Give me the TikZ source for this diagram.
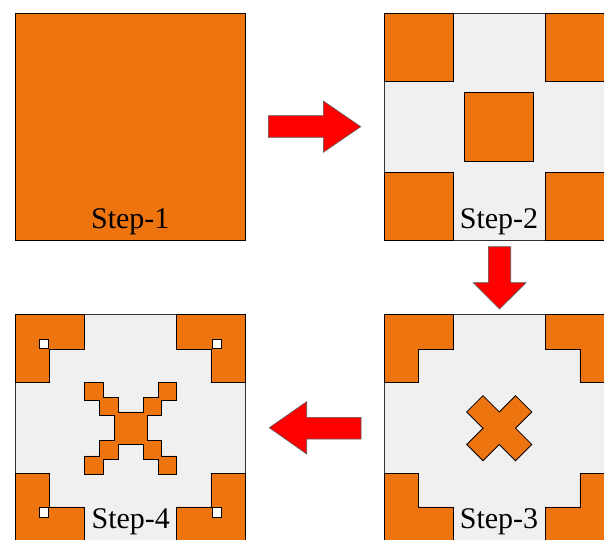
\documentclass[tikz,border=0pt]{standalone}
\usepackage{fontspec}
\setmainfont{Liberation Serif}
\definecolor{org}{RGB}{238,116,16}
\definecolor{lgray}{RGB}{240,240,240}
\begin{document}
\begin{tikzpicture}[x=1bp,y=-1bp,
  panel/.style={fill=lgray,draw=black!80,line width=0.8bp},
  blk/.style={fill=org,draw=black,line width=0.8bp,line join=miter},
  hole/.style={fill=white,draw=black,line width=0.8bp},
  redarrow/.style={fill=red,draw=black!65,line width=0.6bp,line join=miter},
  lbl/.style={font=\fontsize{30bp}{34bp}\selectfont,anchor=base,inner sep=0pt}]
\useasboundingbox (0,0) rectangle (604,540);
\clip (0,0) rectangle (604,540);

% ---------- Step 1 ----------
\draw[blk] (15,13.3) rectangle (245.5,240);
\node[lbl] (s1) at (130.3,228.3) {Step-1};

% ---------- Step 2 ----------
\begin{scope}[shift={(384,13.3)}]
  \draw[panel] (0,0) rectangle (230.5,226.7);
  \draw[blk] (0,0) rectangle (69.2,68);
  \draw[blk] (161.3,0) rectangle (230.5,68);
  \draw[blk] (0,158.7) rectangle (69.2,226.7);
  \draw[blk] (161.3,158.7) rectangle (230.5,226.7);
  \draw[blk] (80.8,78.9) rectangle (149.7,147.8);
\end{scope}
\node[lbl] (s2) at (499,228.3) {Step-2};

% ---------- Step 3 ----------
\begin{scope}[shift={(384,314.7)}]
  \draw[panel] (0,0) rectangle (230.5,226.7);
  \draw[blk] (0,0) -- (69.2,0) -- (69.2,34.5) -- (34.6,34.5) -- (34.6,68) -- (0,68) -- cycle;
  \draw[blk] (230.5,0) -- (161.3,0) -- (161.3,34.5) -- (195.9,34.5) -- (195.9,68) -- (230.5,68) -- cycle;
  \draw[blk] (0,226.7) -- (69.2,226.7) -- (69.2,192.2) -- (34.6,192.2) -- (34.6,158.7) -- (0,158.7) -- cycle;
  \draw[blk] (230.5,226.7) -- (161.3,226.7) -- (161.3,192.2) -- (195.9,192.2) -- (195.9,158.7) -- (230.5,158.7) -- cycle;
  \begin{scope}[shift={(115.25,113.5)},rotate=45]
    \draw[blk] (-11.5,-34.5) -- (11.5,-34.5) -- (11.5,-11.5) -- (34.5,-11.5) -- (34.5,11.5)
      -- (11.5,11.5) -- (11.5,34.5) -- (-11.5,34.5) -- (-11.5,11.5) -- (-34.5,11.5)
      -- (-34.5,-11.5) -- (-11.5,-11.5) -- cycle;
  \end{scope}
\end{scope}
\node[lbl] (s3) at (499,528.3) {Step-3};

% ---------- Step 4 ----------
\begin{scope}[shift={(15,314.7)}]
  \draw[panel] (0,0) rectangle (230.5,226.7);
  \draw[blk] (0,0) -- (69.2,0) -- (69.2,34.5) -- (34.6,34.5) -- (34.6,68) -- (0,68) -- cycle;
  \draw[blk] (230.5,0) -- (161.3,0) -- (161.3,34.5) -- (195.9,34.5) -- (195.9,68) -- (230.5,68) -- cycle;
  \draw[blk] (0,226.7) -- (69.2,226.7) -- (69.2,192.2) -- (34.6,192.2) -- (34.6,158.7) -- (0,158.7) -- cycle;
  \draw[blk] (230.5,226.7) -- (161.3,226.7) -- (161.3,192.2) -- (195.9,192.2) -- (195.9,158.7) -- (230.5,158.7) -- cycle;
  \draw[hole] (24,24.5) rectangle (33.2,33.6);
  \draw[hole] (197.5,24.5) rectangle (206.7,33.6);
  \draw[hole] (24,193.1) rectangle (33.2,202.2);
  \draw[hole] (197.5,193.1) rectangle (206.7,202.2);
  \begin{scope}[shift={(115.6,113.5)}]
    \def\a{12.5}\def\b{16.3}\def\c{27.7}\def\d{31}\def\e{46}
    \draw[blk] (-\e,-\e) -- (-\c,-\e) -- (-\c,-\d) -- (-\a,-\d) -- (-\a,-\b) -- (\a,-\b)
      -- (\a,-\d) -- (\c,-\d) -- (\c,-\e) -- (\e,-\e) -- (\e,-\c) -- (\d,-\c) -- (\d,-\a)
      -- (\b,-\a) -- (\b,\a) -- (\d,\a) -- (\d,\c) -- (\e,\c) -- (\e,\e) -- (\c,\e)
      -- (\c,\d) -- (\a,\d) -- (\a,\b) -- (-\a,\b) -- (-\a,\d) -- (-\c,\d) -- (-\c,\e)
      -- (-\e,\e) -- (-\e,\c) -- (-\d,\c) -- (-\d,\a) -- (-\b,\a) -- (-\b,-\a) -- (-\d,-\a)
      -- (-\d,-\c) -- (-\e,-\c) -- cycle;
  \end{scope}
\end{scope}
\node[lbl] (s4) at (130.8,528.3) {Step-4};

% ---------- red block arrows ----------
\draw[redarrow] (268.3,115.7) -- (323.3,115.7) -- (323.3,101) -- (360.7,126.7)
  -- (323.3,152.3) -- (323.3,137.3) -- (268.3,137.3) -- cycle;
\draw[redarrow] (488.3,246.7) -- (510.7,246.7) -- (510.7,282.7) -- (526,282.7)
  -- (499.5,309) -- (473.3,282.7) -- (488.3,282.7) -- cycle;
\draw[redarrow] (361,417.3) -- (306.7,417.3) -- (306.7,401.7) -- (269.3,427.7)
  -- (306.7,454) -- (306.7,439) -- (361,439) -- cycle;
\end{tikzpicture}
\end{document}
